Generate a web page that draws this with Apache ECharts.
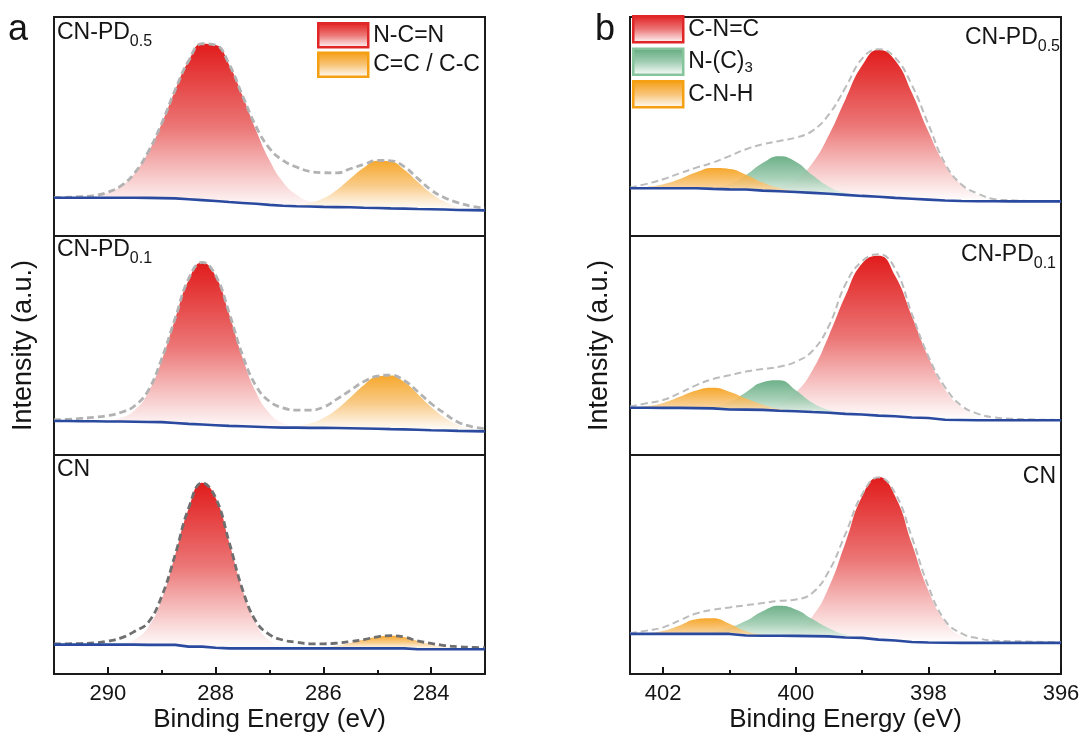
<!DOCTYPE html>
<html><head><meta charset="utf-8">
<script src="https://cdn.jsdelivr.net/npm/echarts@6/dist/echarts.min.js"></script>
<style>html,body{margin:0;padding:0;background:#fff}#c{width:1084px;height:742px}</style>
</head><body><div id="c"></div>
<script>
// ---------------- data (intensity in a.u., 0-100 per panel) ----------------
// C 1s panel (a): sampling energies (eV)
const aEnergy = [291,290.75,290.5,290.25,290,289.75,289.5,289.25,289,288.75,288.5,288.25,288,287.75,287.5,287.25,287,286.75,286.5,286.25,286,285.75,285.5,285.25,285,284.75,284.5,284.25,284,283.75,283.5,283.25,283];
const aRange = [283, 291];
const aMajorTicks = [290, 288, 286, 284];
const aMinorTicks = [291, 289, 287, 285, 283];
const aComponents = ['N-C=N', 'C=C / C-C'];

// CN-PD0.5 (a)
const a05Base = [17.5,17.5,17.5,17.5,17.5,17.5,17.5,17.4,17.3,17.2,16.8,16.4,16.0,15.5,15.1,14.7,14.2,13.8,13.6,13.5,13.3,13.2,13.1,12.9,12.8,12.6,12.5,12.3,12.2,12.1,11.9,11.8,11.7];
const a05NCN  = [0,0.1,0.3,0.8,2.3,5.3,11.2,20.8,34.1,49.4,63.2,71.4,71.2,62.7,48.9,33.6,20.4,10.9,5.2,2.2,0.8,0.3,0.1,0,0,0,0,0,0,0,0,0,0];
const a05CC   = [0,0,0,0,0,0,0,0,0,0,0,0,0,0,0,0,0,0.2,0.6,1.7,3.9,7.8,13.1,18.3,21.6,21.4,17.8,12.5,7.3,3.6,1.5,0.5,0.2];
const a05Env  = [17.6,17.7,18.0,18.5,20.0,23.0,28.9,38.5,51.5,66.8,80.0,87.8,87.2,78.5,64.0,50.0,40.0,34.5,31.5,29.5,28.9,28.8,30.7,32.7,34.5,34.3,31.7,26.3,21.0,17.5,15.2,13.6,12.8];
// CN-PD0.1 (a)
const a01Base = [15.5,15.5,15.4,15.4,15.3,15.3,15.2,15.1,15.0,14.6,14.2,13.9,13.6,13.3,13.1,12.9,12.7,12.5,12.5,12.4,12.4,12.3,12.2,12.1,12.0,11.8,11.7,11.5,11.3,11.2,11.0,10.9,10.8];
const a01NCN  = [0,0,0,0.1,0.5,1.7,5.4,13.6,28.2,47.6,65.7,74.0,68.0,51.1,31.3,15.7,6.4,2.1,0.6,0.1,0,0,0,0,0,0,0,0,0,0,0,0,0];
const a01CC   = [0,0,0,0,0,0,0,0,0,0,0,0,0,0,0,0,0.1,0.3,0.8,2.0,4.5,8.6,14.1,19.8,23.8,24.5,21.6,16.4,10.6,5.9,2.8,1.1,0.4];
const a01Env  = [16.0,16.3,16.7,17.2,18.0,19.5,22.5,29.5,44.0,62.5,80.5,88.0,82.0,65.0,45.5,31.5,24.5,21.5,20.5,20.5,21.8,25.5,29.5,33.5,36.0,36.5,34.0,29.0,23.5,19.0,15.0,13.0,12.0];
// CN (a)
const aCNBase = [13.4,13.4,13.4,13.4,13.4,13.4,13.4,13.3,13.3,13.3,12.5,12.5,12.0,11.7,11.7,11.7,11.7,11.7,11.7,11.7,11.7,11.7,11.7,11.7,11.7,11.7,11.7,11.3,11.3,11.3,11.3,11.3,11.3];
const aCNNCN  = [0,0,0,0,0.1,0.6,2.5,8.1,20.8,41.2,63.1,74.8,68.5,48.6,26.7,11.3,3.7,1.0,0.2,0,0,0,0,0,0,0,0,0,0,0,0,0,0];
const aCNCC   = [0,0,0,0,0,0,0,0,0,0,0,0,0,0,0,0,0,0,0,0,0.5,1.2,2.4,4.0,5.3,5.8,5.2,3.8,2.2,1.1,0.4,0.1,0];
const aCNEnv  = [13.7,13.8,13.9,14.2,15.0,16.5,19.5,23.6,35.5,54.5,75.8,87.3,80.5,60.3,38.5,24.0,18.0,15.5,14.5,13.8,13.8,14.1,14.8,15.7,17.0,17.5,16.9,15.1,14.0,13.0,12.5,12.2,12.0];

// N 1s panel (b)
const bEnergy = [402.5,402.25,402,401.75,401.5,401.25,401,400.75,400.5,400.25,400,399.75,399.5,399.25,399,398.75,398.5,398.25,398,397.75,397.5,397.25,397,396.75,396.5,396.25,396];
const bRange = [396, 402.5];
const bMajorTicks = [402, 400, 398, 396];
const bMinorTicks = [401, 399, 397];
const bComponents = ['C-N=C', 'N-(C)3', 'C-N-H'];

// CN-PD0.5 (b)
const b05Base = [21.8,21.8,21.8,21.8,21.8,21.5,21.3,21.2,20.7,20.4,20.1,19.7,19.3,18.8,18.3,17.9,17.4,17.0,16.6,16.2,16.0,15.9,15.9,15.8,15.8,15.8,15.8];
const b05CNC  = [0,0,0,0,0,0,0,0.1,0.6,2.0,5.6,13.5,26.8,43.7,59.5,67.2,62.7,48.5,31.1,16.5,7.4,2.7,0.8,0.2,0,0,0];
const b05NC3  = [0,0,0,0,0.1,0.6,2.4,6.7,12.6,16.0,13.8,8.1,3.2,0.9,0.2,0,0,0,0,0,0,0,0,0,0,0,0];
const b05CNH  = [0.1,0.6,1.8,4.2,7.3,9.5,9.3,6.8,3.7,1.5,0.4,0.1,0,0,0,0,0,0,0,0,0,0,0,0,0,0,0];
const b05Env  = [22.1,23.8,25.9,28.6,31.2,33.5,36.5,39.6,41.9,43.4,44.9,48.0,55.5,67.8,81.0,85.3,81.4,69.0,51.0,33.2,23.5,19.3,16.8,16.3,16.0,15.9,15.8];
// CN-PD0.1 (b)
const b01Base = [21.6,21.6,21.5,21.5,21.4,21.3,20.8,20.7,20.6,20.2,20.0,19.6,19.3,18.8,18.5,18.0,17.7,17.1,16.9,16.1,16.0,15.9,15.9,15.9,15.9,15.9,15.9];
const b01CNC  = [0,0,0,0,0,0,0,0.2,1.0,3.1,8.5,19.0,35.3,54.0,69.0,73.0,64.0,46.4,27.8,13.8,5.8,2.0,0.6,0.1,0,0,0];
const b01NC3  = [0,0,0,0,0.2,0.9,3.4,8.0,12.6,13.9,9.6,4.3,1.3,0.3,0,0,0,0,0,0,0,0,0,0,0,0,0];
const b01CNH  = [0.2,0.8,2.3,5.1,8.1,9.4,8.1,5.1,2.4,0.8,0.2,0,0,0,0,0,0,0,0,0,0,0,0,0,0,0,0];
const b01Env  = [22.1,23.6,25.1,28.3,31.9,34.7,36.4,38.1,39.3,40.3,42.6,47.5,59.0,78.0,88.5,91.7,85.0,64.5,45.0,31.0,22.5,18.8,17.1,16.6,16.3,16.1,16.0];
// CN (b)
const bCNBase = [18.3,18.3,18.3,18.3,18.3,18.3,18.3,17.6,17.5,17.5,17.4,17.3,17.2,16.7,16.5,15.7,15.3,14.6,14.4,14.3,14.2,14.2,14.2,14.2,14.2,14.2,14.2];
const bCNCNC  = [0,0,0,0,0,0,0,0,0.1,0.7,2.8,9.0,22.5,43.4,64.6,74.2,65.8,45.0,23.7,9.6,3.0,0.7,0.1,0,0,0,0];
const bCNNC3  = [0,0,0,0,0.2,0.9,2.9,6.7,11.2,13.7,12.1,7.8,3.7,1.3,0.3,0.1,0,0,0,0,0,0,0,0,0,0,0];
const bCNCNH  = [0,0.3,1.4,3.9,6.7,7.1,4.6,1.9,0.5,0.1,0,0,0,0,0,0,0,0,0,0,0,0,0,0,0,0,0];
const bCNEnv  = [18.6,19.8,21.3,24.5,27.6,29.3,30.4,31.4,32.4,33.4,34.0,37.0,47.0,64.0,82.0,89.8,82.5,62.5,40.0,24.5,18.5,16.3,15.2,15.0,14.8,14.6,14.5];

const sampleMain = ['CN-PD', 'CN-PD', 'CN'];
const sampleSub  = ['0.5', '0.1', ''];

// ---------------- styles ----------------
const FONT = "'Liberation Sans', Arial, Helvetica, sans-serif";
const INK = '#151515';
const COL = {
  red:    {top: 'rgb(225,28,28)',  mid: 'rgb(236,118,118)', border: '#e02626', opacity: 1},
  orange: {top: 'rgb(245,156,16)', mid: 'rgb(248,196,120)', border: '#f5a012', opacity: 0.88},
  green:  {top: 'rgb(94,168,124)', mid: 'rgb(160,205,178)', border: '#86c49c', opacity: 0.9}
};
function grad(c) {
  return {type: 'linear', x: 0, y: 0, x2: 0, y2: 1,
    colorStops: [{offset: 0, color: c.top}, {offset: 0.5, color: c.mid}, {offset: 1, color: 'rgba(255,255,255,0.95)'}]};
}
function pairs(xs, ys) { return xs.map((x, i) => [x, ys[i]]); }
// value-first rows, so the stack is computed on the intensity dimension
function rowsYX(xs, ys) { return xs.map((x, i) => [ys[i], x]); }

const panels = [
  {x: aEnergy, base: a05Base, env: a05Env, envColor: '#b2b2b2', envWidth: 2.8, peaks: [[aComponents[0], a05NCN, 'red'], [aComponents[1], a05CC, 'orange']]},
  {x: aEnergy, base: a01Base, env: a01Env, envColor: '#b2b2b2', envWidth: 2.8, peaks: [[aComponents[0], a01NCN, 'red'], [aComponents[1], a01CC, 'orange']]},
  {x: aEnergy, base: aCNBase, env: aCNEnv, envColor: '#6f6f6f', envWidth: 2.8, peaks: [[aComponents[0], aCNNCN, 'red'], [aComponents[1], aCNCC, 'orange']]},
  {x: bEnergy, base: b05Base, env: b05Env, envColor: '#bcbcbc', envWidth: 2, peaks: [[bComponents[0], b05CNC, 'red'], [bComponents[1], b05NC3, 'green'], [bComponents[2], b05CNH, 'orange']]},
  {x: bEnergy, base: b01Base, env: b01Env, envColor: '#bcbcbc', envWidth: 2, peaks: [[bComponents[0], b01CNC, 'red'], [bComponents[1], b01NC3, 'green'], [bComponents[2], b01CNH, 'orange']]},
  {x: bEnergy, base: bCNBase, env: bCNEnv, envColor: '#bcbcbc', envWidth: 2, peaks: [[bComponents[0], bCNCNC, 'red'], [bComponents[1], bCNNC3, 'green'], [bComponents[2], bCNCNH, 'orange']]}
];

// ---------------- layout ----------------
const tops = [17, 236, 455];
const grids = [];
[54, 630].forEach(left => tops.forEach(top => grids.push({
  left: left, top: top, width: 431, height: 219, show: true,
  borderColor: '#1b1b1b', borderWidth: 2, backgroundColor: 'transparent'
})));

const xAxes = grids.map((g, i) => {
  const isA = i < 3, bottom = i % 3 === 2;
  const range = isA ? aRange : bRange;
  return {
    gridIndex: i, type: 'value', inverse: true, position: 'bottom',
    min: range[0], max: range[1], show: bottom,
    axisLine: {show: false}, splitLine: {show: false},
    axisTick: {show: bottom, inside: true, length: 7, customValues: isA ? aMajorTicks : bMajorTicks,
      lineStyle: {color: INK, width: 2}},
    axisLabel: {show: bottom, customValues: isA ? aMajorTicks : bMajorTicks, fontSize: 22, margin: 9,
      color: INK, fontFamily: FONT},
    name: bottom ? 'Binding Energy (eV)' : '', nameLocation: 'middle', nameGap: 33,
    nameTextStyle: {fontSize: 26, color: INK, fontFamily: FONT}
  };
});
// minor ticks on the bottom panels
[[2, aRange, aMinorTicks], [5, bRange, bMinorTicks]].forEach(([gi, range, ticks]) => {
  xAxes.push({
    gridIndex: gi, type: 'value', inverse: true, position: 'bottom', min: range[0], max: range[1],
    axisLine: {show: false}, splitLine: {show: false}, axisLabel: {show: false},
    axisTick: {show: true, inside: true, length: 4, customValues: ticks, lineStyle: {color: INK, width: 2}}
  });
});

const yAxes = grids.map((g, i) => ({
  gridIndex: i, type: 'value', min: 0, max: 100, show: i % 3 === 1,
  axisLine: {show: false}, axisTick: {show: false}, axisLabel: {show: false}, splitLine: {show: false},
  name: i % 3 === 1 ? 'Intensity (a.u.)' : '', nameLocation: 'middle', nameGap: 17,
  nameTextStyle: {fontSize: 27, color: INK, fontFamily: FONT}
}));

// ---------------- series ----------------
const series = [];
panels.forEach((p, k) => {
  p.peaks.forEach(([name, vals, ck], j) => {
    const st = 'st' + k + '_' + j;
    series.push({
      type: 'line', name: '_base' + k + '_' + j, xAxisIndex: k, yAxisIndex: k, stack: st,
      data: rowsYX(p.x, p.base), encode: {x: 1, y: 0},
      symbol: 'none', silent: true, z: 1,
      lineStyle: {width: 0, opacity: 0}
    });
    series.push({
      type: 'line', name: name, xAxisIndex: k, yAxisIndex: k, stack: st,
      data: rowsYX(p.x, vals), encode: {x: 1, y: 0},
      symbol: 'none', smooth: 0.5, silent: true, z: 2 + j,
      lineStyle: {width: 0, opacity: 0},
      itemStyle: {color: COL[ck].top},
      areaStyle: {color: grad(COL[ck]), opacity: COL[ck].opacity}
    });
  });
  series.push({
    type: 'line', name: '_env' + k, xAxisIndex: k, yAxisIndex: k, data: pairs(p.x, p.env),
    symbol: 'none', smooth: 0.45, silent: true, z: 8,
    lineStyle: {color: p.envColor, width: p.envWidth, type: [7, 4]}
  });
  series.push({
    type: 'line', name: '_bl' + k, xAxisIndex: k, yAxisIndex: k, data: pairs(p.x, p.base),
    symbol: 'none', silent: true, z: 9,
    lineStyle: {color: '#2a4aa0', width: 2.6}
  });
});

// ---------------- titles ----------------
const rich = {
  m: {fontSize: 23, lineHeight: 25, fontFamily: FONT, fontWeight: 'normal', color: INK, verticalAlign: 'top'},
  s: {fontSize: 16, lineHeight: 16, padding: [13, 0, 0, 0], fontFamily: FONT, fontWeight: 'normal', color: INK, verticalAlign: 'top'}
};
function sampleTitle(i, pos) {
  const txt = sampleSub[i] ? '{m|' + sampleMain[i] + '}{s|' + sampleSub[i] + '}' : '{m|' + sampleMain[i] + '}';
  return Object.assign({text: txt, padding: 0, textStyle: {fontWeight: 'normal', rich: rich}}, pos);
}
const titles = [
  {text: 'a', left: 8, top: 12, padding: 0, textStyle: {fontSize: 36, fontWeight: 'normal', color: INK, fontFamily: FONT}},
  {text: 'b', left: 595, top: 12, padding: 0, textStyle: {fontSize: 36, fontWeight: 'normal', color: INK, fontFamily: FONT}},
  sampleTitle(0, {left: 57, top: 21}),
  sampleTitle(1, {left: 57, top: 238}),
  sampleTitle(2, {left: 57, top: 458}),
  sampleTitle(0, {right: 24, top: 26}),
  sampleTitle(1, {right: 28, top: 243}),
  sampleTitle(2, {right: 28, top: 465})
];

const legendText = {fontSize: 23, color: INK, fontFamily: FONT,
  rich: {sub: {fontSize: 15, padding: [12, 0, 0, 0], color: INK, fontFamily: FONT}}};
const legends = [
  {left: 317, top: 22, orient: 'vertical', icon: 'rect', itemWidth: 50, itemHeight: 24, itemGap: 3,
   padding: 0, selectedMode: false, textStyle: legendText,
   data: aComponents.map((n, i) => {
     const ck = ['red', 'orange'][i];
     return {name: n, itemStyle: {color: grad(COL[ck]), borderColor: COL[ck].border, borderWidth: 2.5}};
   })},
  {left: 632, top: 15, orient: 'vertical', icon: 'rect', itemWidth: 50, itemHeight: 26, itemGap: 4,
   padding: 0, selectedMode: false, textStyle: legendText,
   formatter: n => n === 'N-(C)3' ? 'N-(C){sub|3}' : n,
   data: bComponents.map((n, i) => {
     const ck = ['red', 'green', 'orange'][i];
     return {name: n, itemStyle: {color: grad(COL[ck]), borderColor: COL[ck].border, borderWidth: 2.5}};
   })}
];

const chart = echarts.init(document.getElementById('c'), null, {renderer: 'canvas'});
chart.setOption({
  animation: false,
  backgroundColor: '#ffffff',
  title: titles,
  legend: legends,
  grid: grids,
  xAxis: xAxes,
  yAxis: yAxes,
  series: series
});
</script></body></html>
